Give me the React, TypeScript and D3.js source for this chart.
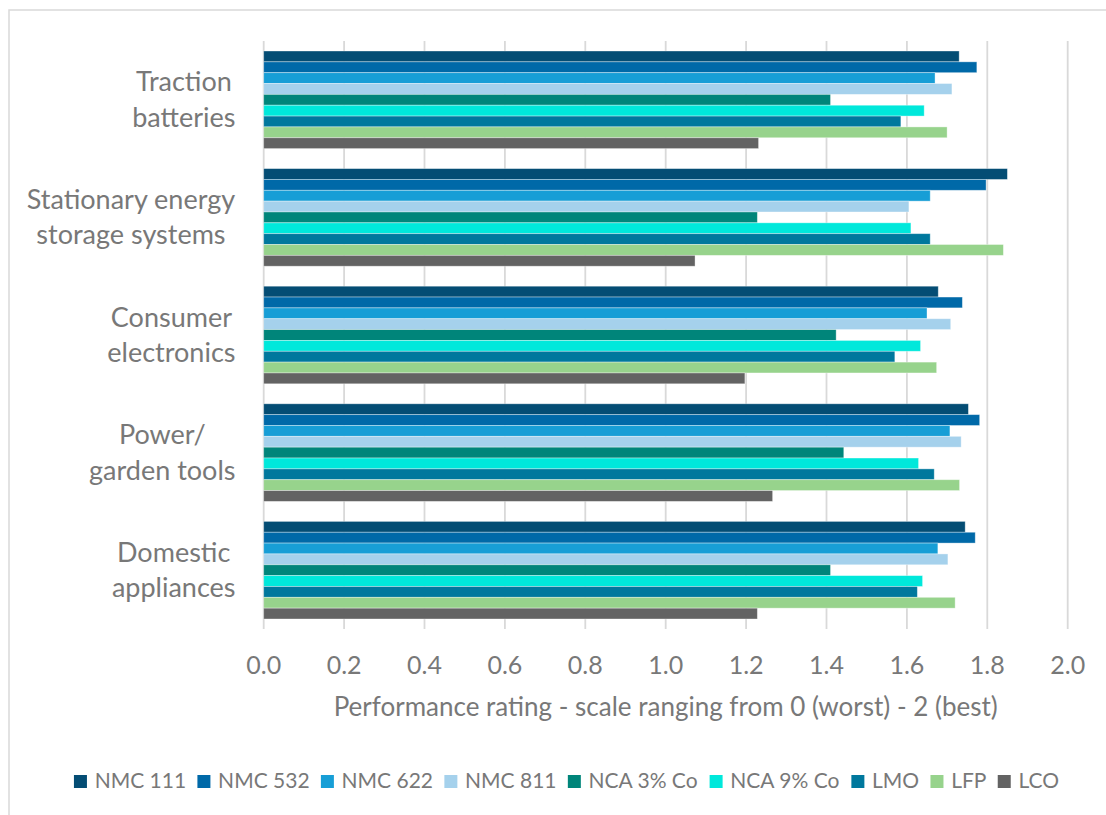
import React from "react";
import * as d3 from "d3";

// Application areas (top to bottom), with their wrapped label lines
const categoryLines: string[][] = [
  ["Traction", "batteries"],
  ["Stationary energy", "storage systems"],
  ["Consumer", "electronics"],
  ["Power/", "garden tools"],
  ["Domestic", "appliances"],
];

// Cathode chemistries, in legend / bar order
const seriesNames = [
  "NMC 111",
  "NMC 532",
  "NMC 622",
  "NMC 811",
  "NCA 3% Co",
  "NCA 9% Co",
  "LMO",
  "LFP",
  "LCO",
];

const seriesColors = [
  "#044d74",
  "#0069a8",
  "#179ed6",
  "#a5d1ec",
  "#00857a",
  "#00e8db",
  "#00789d",
  "#97d38c",
  "#636363",
];

// Performance ratings per chemistry, one value per application area
const nmc111 = [1.73, 1.85, 1.678, 1.753, 1.745];
const nmc532 = [1.774, 1.797, 1.738, 1.781, 1.77];
const nmc622 = [1.67, 1.658, 1.65, 1.707, 1.677];
const nmc811 = [1.712, 1.605, 1.709, 1.735, 1.702];
const nca3 = [1.41, 1.228, 1.424, 1.443, 1.41];
const nca9 = [1.643, 1.61, 1.634, 1.629, 1.639];
const lmo = [1.585, 1.658, 1.57, 1.668, 1.626];
const lfp = [1.7, 1.84, 1.674, 1.731, 1.72];
const lco = [1.231, 1.073, 1.197, 1.266, 1.228];

const seriesValues = [nmc111, nmc532, nmc622, nmc811, nca3, nca9, lmo, lfp, lco];

const xTicks = [0, 0.2, 0.4, 0.6, 0.8, 1.0, 1.2, 1.4, 1.6, 1.8, 2.0];
const xTitle = "Performance rating - scale ranging from 0 (worst) - 2 (best)";

const W = 1106;
const H = 815;
const FONT = "Lato, 'Open Sans', sans-serif";
const TEXT = "#787878";
const GRID = "#d9d9d9";

const measureCanvas = typeof document !== "undefined" ? document.createElement("canvas") : null;
function textWidth(s: string, size: number): number {
  const ctx = measureCanvas && measureCanvas.getContext("2d");
  if (!ctx) return s.length * size * 0.5;
  ctx.font = `${size}px Lato, 'Open Sans', sans-serif`;
  return ctx.measureText(s).width;
}

export default function App() {
  const frame = { left: 9, top: 10, right: 1124, bottom: 830 };
  const plot = { left: 263.7, right: 1067.7, top: 41, bottom: 629 };

  const x = d3.scaleLinear().domain([0, 2]).range([plot.left, plot.right]);
  const y = d3
    .scaleBand<number>()
    .domain(d3.range(categoryLines.length))
    .range([plot.top, plot.bottom])
    .paddingInner(0.17)
    .paddingOuter(0.085);
  const yInner = d3
    .scaleBand<number>()
    .domain(d3.range(seriesNames.length))
    .range([0, y.bandwidth()]);

  const catSize = 27;
  const labelRight = 235.5;

  // legend layout, centred on the chart frame
  const legSize = 21;
  const sw = 13;
  const swGap = 7.7;
  const itemGap = 11.3;
  const widths = seriesNames.map((n) => textWidth(n, legSize));
  const totalW =
    widths.reduce((a, w) => a + sw + swGap + w, 0) + itemGap * (seriesNames.length - 1);
  let cursor = (frame.left + frame.right) / 2 - totalW / 2;
  const legendItems = seriesNames.map((n, i) => {
    const item = { name: n, x: cursor, color: seriesColors[i] };
    cursor += sw + swGap + widths[i] + itemGap;
    return item;
  });
  const legendBase = 788;

  return (
    <svg
      width={W}
      height={H}
      style={{ position: "absolute", left: 0, top: 0, display: "block", background: "#fff" }}
      fontFamily={FONT}
    >
      <rect x={0} y={0} width={W} height={H} fill="#fff" />
      <rect
        x={frame.left}
        y={frame.top}
        width={frame.right - frame.left}
        height={frame.bottom - frame.top}
        fill="#fff"
        stroke={GRID}
        strokeWidth={1.5}
      />

      {/* vertical gridlines */}
      {xTicks.map((t) => (
        <line
          key={`g${t}`}
          x1={x(t)}
          x2={x(t)}
          y1={plot.top}
          y2={plot.bottom}
          stroke={GRID}
          strokeWidth={1.8}
        />
      ))}

      {/* bars */}
      {categoryLines.map((_, ci) => (
        <g key={`c${ci}`} transform={`translate(0,${y(ci)})`}>
          {seriesValues.map((vals, si) => (
            <rect
              key={`b${si}`}
              x={x(0)}
              y={yInner(si)}
              width={x(vals[ci]) - x(0)}
              height={yInner.bandwidth()}
              fill={seriesColors[si]}
              stroke="#ffffff"
              strokeOpacity={0.45}
              strokeWidth={0.8}
            />
          ))}
        </g>
      ))}

      {/* category labels */}
      {categoryLines.map((lines, ci) => {
        const maxW = Math.max(...lines.map((l) => textWidth(l, catSize)));
        const cx = labelRight - maxW / 2;
        const cy = (y(ci) as number) + y.bandwidth() / 2;
        return (
          <text key={`l${ci}`} fontSize={catSize} fill={TEXT} textAnchor="middle">
            <tspan x={cx} y={cy - 8.5}>
              {lines[0]}
            </tspan>
            <tspan x={cx} y={cy + 27}>
              {lines[1]}
            </tspan>
          </text>
        );
      })}

      {/* x tick labels */}
      {xTicks.map((t) => (
        <text
          key={`t${t}`}
          x={x(t)}
          y={674}
          fontSize={25}
          fill={TEXT}
          textAnchor="middle"
        >
          {d3.format(".1f")(t)}
        </text>
      ))}

      {/* x axis title */}
      <text
        x={(plot.left + plot.right) / 2}
        y={716}
        fontSize={26}
        fill={TEXT}
        textAnchor="middle"
      >
        {xTitle}
      </text>

      {/* legend */}
      {legendItems.map((it) => (
        <g key={it.name}>
          <rect x={it.x} y={legendBase - sw} width={sw} height={sw} fill={it.color} />
          <text x={it.x + sw + swGap} y={legendBase} fontSize={legSize} fill={TEXT}>
            {it.name}
          </text>
        </g>
      ))}
    </svg>
  );
}
